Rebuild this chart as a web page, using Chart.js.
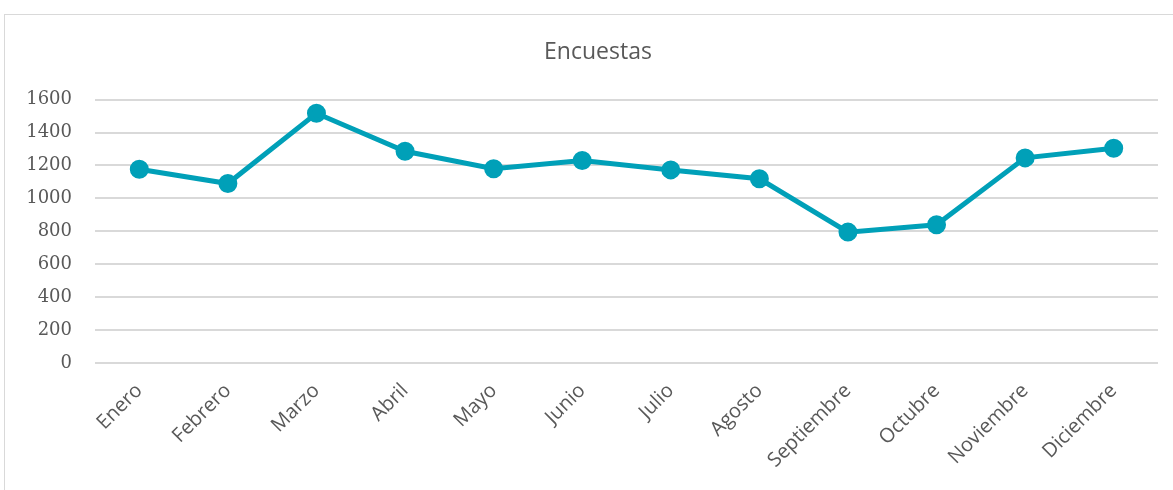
<!DOCTYPE html>
<html>
<head>
<meta charset="utf-8">
<script src="https://cdn.jsdelivr.net/npm/chart.js@4"></script>
<style>
  html, body { margin: 0; padding: 0; background: #fff; overflow: hidden; }
  #frame {
    position: absolute; left: 4px; top: 14px;
    width: 1200px; height: 500px;
    border: 1px solid #d9d9d9;
  }
  #encuestas-chart { position: absolute; left: 0; top: 0; }
</style>
</head>
<body>
<div id="frame"></div>
<canvas id="encuestas-chart" width="1173" height="490"></canvas>
<script>
const meses = ['Enero', 'Febrero', 'Marzo', 'Abril', 'Mayo', 'Junio', 'Julio',
    'Agosto', 'Septiembre', 'Octubre', 'Noviembre', 'Diciembre'];
const encuestas = [1177, 1090, 1517, 1286, 1180, 1230, 1173, 1119, 795, 840, 1246, 1305];
const yTicks = [0, 200, 400, 600, 800, 1000, 1200, 1400, 1600];

const textColor = '#595959';
const lineColor = '#00a0b8';

const ctx = document.getElementById('encuestas-chart').getContext('2d');
new Chart(ctx, {
    type: 'line',
    data: {
        labels: meses,
        datasets: [{
            label: 'Encuestas',
            data: encuestas,
            borderColor: lineColor,
            backgroundColor: lineColor,
            borderWidth: 5,
            pointRadius: 7,
            pointHoverRadius: 7,
            pointBackgroundColor: lineColor,
            pointBorderColor: lineColor,
            tension: 0
        }]
    },
    options: {
        responsive: false,
        animation: false,
        layout: { padding: { left: 23, right: 0, top: 0, bottom: 0 } },
        plugins: {
            legend: { display: false },
            tooltip: { enabled: false },
            title: {
                display: true,
                text: 'Encuestas',
                color: textColor,
                font: { family: 'Open Sans', size: 23, weight: 'normal' },
                padding: { top: 39, bottom: 33 }
            }
        },
        scales: {
            x: {
                offset: true,
                grid: { display: false, drawTicks: false },
                border: { display: false },
                ticks: {
                    color: textColor,
                    font: { family: 'Open Sans', size: 20 },
                    maxRotation: 45,
                    minRotation: 45,
                    padding: 16
                },
                afterFit: scale => { scale.height = 127; }
            },
            y: {
                min: 0,
                max: 1600,
                afterBuildTicks: scale => { scale.ticks = yTicks.map(v => ({ value: v })); },
                grid: { color: '#d9d9d9', lineWidth: 2, drawTicks: false },
                border: { display: false },
                ticks: {
                    color: textColor,
                    font: { family: 'DejaVu Serif', size: 18 },
                    padding: 23,
                    callback: value => String(value)
                },
                afterFit: scale => { scale.width = 72; }
            },
            // empty right-hand spacer so the plot ends where the reference does
            spacer: {
                type: 'linear',
                position: 'right',
                grid: { display: false, drawTicks: false },
                border: { display: false },
                ticks: { display: false },
                afterFit: scale => { scale.width = 15; }
            }
        }
    }
});
</script>
</body>
</html>
